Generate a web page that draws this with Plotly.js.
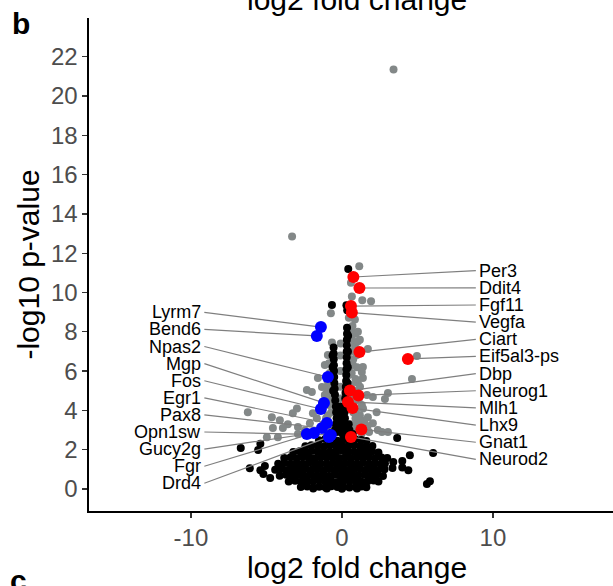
<!DOCTYPE html>
<html>
<head>
<meta charset="utf-8">
<script src="https://cdn.plot.ly/plotly-3.0.1.min.js"></script>
<style>
  html, body { margin: 0; padding: 0; background: #ffffff; overflow: hidden; }
  #chart { width: 625px; height: 586px; }
</style>
</head>
<body>
<div id="chart"></div>
<script>
// Volcano plot: log2 fold change vs -log10 p-value

// Genes not passing the filters (black)
const nsFC = [
  -0.7,-0.35,0.02,0.36,0.72,
  -1.52,-1.1,-0.72,-0.3,0.1,0.5,0.88,1.28,1.62,
  -2.42,-2.02,-1.6,-1.2,-0.8,-0.4,0.0,0.4,0.8,1.2,1.6,2.02,
  -3.22,-2.8,-2.4,-2.0,-1.6,-1.2,-0.8,-0.4,0.0,0.4,0.8,1.2,1.6,2.0,2.42,
  -3.82,-3.4,-3.0,-2.6,-2.2,-1.8,-1.4,-1.0,-0.6,-0.2,0.2,0.6,1.0,1.4,1.8,2.2,2.62,
  -4.22,-3.8,-3.4,-3.0,-2.6,-2.2,-1.8,-1.4,-1.0,-0.6,-0.2,0.2,0.6,1.0,1.4,1.8,2.2,2.6,2.85,
  -4.42,-4.0,-3.6,-3.2,-2.8,-2.4,-2.0,-1.6,-1.2,-0.8,-0.4,0.0,0.4,0.8,1.2,1.6,2.0,2.4,2.82,
  -4.12,-3.7,-3.3,-2.9,-2.5,-2.1,-1.7,-1.3,-0.9,-0.5,-0.1,0.3,0.7,1.1,1.5,1.9,2.3,2.72,
  -3.52,-3.1,-2.7,-2.3,-1.9,-1.5,-1.1,-0.7,-0.3,0.1,0.5,0.9,1.3,1.7,2.1,2.42,
  -2.72,-2.3,-1.9,-1.5,-1.1,-0.7,-0.3,0.1,0.5,0.9,1.3,1.62,
  -1.9,-1.0,0.0,1.0,
  // left arm of the spike
  -0.55,-0.55,-0.54,-0.53,-0.52,-0.51,-0.5,-0.48,-0.46,-0.44,
  -0.62,-0.62,-0.6,-0.58,
  // right arm of the spike
  0.34,0.34,0.33,0.33,0.32,0.32,0.31,0.3,0.29,0.28,0.26,0.24,0.22,
  0.41,0.4,0.39,0.37,
  // where the arms meet
  -0.4,-0.1,0.2, -0.38,-0.08,0.18, -0.35,-0.05,0.2, -0.4,-0.1,0.2,0.45, -0.45,-0.1,0.25,0.5,
  // scattered
  0.42,-0.66,0.35,0.3,
  3.66,3.0,3.4,4.0,4.5,3.35,4.0,4.4,6.04,5.83,5.63,
  -6.7,-5.4,-5.55,-6.1,-5.4,-5.1,-5.2,-4.75
];
const nsP = [
  2.85,2.9,2.82,2.88,2.8,
  2.48,2.55,2.5,2.46,2.52,2.47,2.53,2.49,2.44,
  2.18,2.23,2.2,2.16,2.24,2.19,2.21,2.17,2.22,2.2,2.15,2.19,
  1.88,1.92,1.87,1.93,1.9,1.86,1.91,1.89,1.94,1.88,1.9,1.92,1.87,1.91,1.86,
  1.58,1.62,1.57,1.63,1.6,1.56,1.61,1.59,1.62,1.58,1.6,1.57,1.63,1.59,1.61,1.56,1.6,
  1.28,1.32,1.27,1.31,1.29,1.33,1.28,1.3,1.26,1.32,1.29,1.31,1.27,1.3,1.33,1.28,1.31,1.27,1.3,
  0.98,1.02,0.97,1.01,0.99,1.03,0.98,1.0,0.96,1.02,0.99,1.01,0.97,1.0,1.03,0.98,1.01,0.97,1.0,
  0.68,0.72,0.67,0.71,0.69,0.73,0.68,0.7,0.66,0.72,0.69,0.71,0.67,0.7,0.73,0.68,0.71,0.66,
  0.38,0.42,0.37,0.41,0.39,0.43,0.38,0.4,0.36,0.42,0.39,0.41,0.37,0.4,0.43,0.38,
  0.1,0.13,0.08,0.12,0.09,0.14,0.1,0.12,0.08,0.11,0.13,0.09,
  0.02,0.03,0.01,0.02,
  7.2,6.9,6.6,6.3,6.0,5.7,5.4,5.1,4.8,4.5,
  6.8,6.2,5.6,5.0,
  8.2,7.9,7.6,7.3,7.0,6.7,6.4,6.1,5.8,5.5,5.2,4.9,4.6,
  7.8,7.0,6.2,5.4,
  4.2,4.2,4.2, 3.9,3.9,3.9, 3.6,3.6,3.6, 3.3,3.3,3.3,3.3, 3.0,3.0,3.0,3.0,
  11.2,9.36,9.1,9.35,
  2.6,1.58,1.37,1.42,1.72,1.07,1.1,0.96,1.83,0.4,0.25,
  2.08,2.3,1.98,1.06,0.96,1.17,0.76,0.56
];

// Significant genes without a label (grey)
const sigFC = [
  3.42,-3.3,1.15,0.6,0.66,1.35,1.93,-0.73,0.46,0.4,0.73,1.06,0.66,0.86,-0.66,1.72,0.53,
  -1.13,0.4,0.73,1.39,4.97,4.64,1.32,1.39,1.06,0.46,0.6,-1.59,-1.32,-0.99,-0.66,-2.32,
  -1.99,-0.66,-2.98,-3.25,-6.23,-1.92,-1.66,-2.12,-4.64,-4.11,-3.58,-2.91,-4.57,-3.91,
  -4.97,-4.24,-2.91,-2.45,2.05,3.05,2.85,1.66,2.05,1.72,2.65,3.05,2.38,1.19,0.99,1.46,
  0.86,0.93,1.32,0.99,1.19,0.86,-0.93,-1.13,-0.86,
  -0.93,1.5,2.3,0.9,1.7,
  0.7,0.9,0.75,1.0,0.65,0.9,1.2,0.8,1.1,0.7,1.4,0.75,1.15,0.6,0.9,1.3,0.55,0.85,1.05,0.6,1.5,1.8,
  -0.85,-0.8,-0.95,-0.75,-1.0,-0.8,-1.1,-0.7,-1.05,-0.75,-1.2,-0.55,-1.0,
  -0.1,-0.1,-0.1,-0.1,-0.08
];
const sigP = [
  21.35,12.85,11.33,10.5,9.8,9.6,9.55,8.95,8.72,8.2,7.95,8.0,7.6,7.33,7.45,7.13,6.97,
  6.31,6.56,6.31,6.21,6.77,5.6,5.95,5.65,5.39,5.8,5.29,5.65,5.19,5.19,5.04,5.04,
  4.93,4.73,4.1,3.86,3.91,3.86,3.6,3.35,3.65,3.5,3.3,3.15,3.1,3.1,
  2.63,2.63,2.8,2.98,4.68,4.89,4.58,4.78,3.35,3.65,2.9,2.9,3.0,3.75,3.25,2.98,
  4.78,4.0,4.27,6.82,7.6,8.62,6.82,4.78,4.27,
  3.75,3.5,3.9,3.6,3.2,
  8.3,7.9,6.6,6.2,5.9,5.6,5.2,5.0,4.5,4.6,4.1,3.9,3.5,3.3,3.0,2.8,6.3,7.1,7.5,8.0,3.2,2.9,
  6.4,5.9,5.5,5.3,4.9,4.5,4.3,3.9,3.6,3.2,3.3,2.95,2.9,
  6.8,6.0,5.2,4.6,7.4
];

// Labelled up-regulated genes (red)
const upGenes = ['Per3','Ddit4','Fgf11','Vegfa','Ciart','Eif5al3-ps','Dbp','Neurog1','Mlh1','Lhx9','Gnat1','Neurod2'];
const upFC = [0.76,1.16,0.60,0.66,1.16,4.37,0.53,1.09,0.40,0.70,1.29,0.60];
const upP  = [10.79,10.23,9.31,8.98,6.97,6.62,5.01,4.76,4.43,4.12,3.03,2.65];

// Labelled down-regulated genes (blue)
const downGenes = ['Lyrm7','Bend6','Npas2','Mgp','Fos','Egr1','Pax8','Opn1sw','Gucy2g','Fgr','Drd4'];
const downFC = [-1.39,-1.66,-0.93,-1.19,-1.39,-0.99,-1.32,-0.73,-2.32,-1.85,-0.86];
const downP  = [8.24,7.79,5.70,4.38,4.07,3.36,3.10,2.75,2.80,2.85,2.65];

// Axis ticks
const yTicks = [0,2,4,6,8,10,12,14,16,18,20,22];
const xTicks = [-10,0,10];

// Label column layout (data units)
const rightLabelX = 8.96, rightLineX = 8.87, rightTop = 11.11, rightStep = 0.873;
const leftLabelX = -9.19, leftLineX = -9.11, leftTop = 8.99, leftStep = 0.870;

const FONT = 'Liberation Sans, Arial, Helvetica, sans-serif';

// Connector segments from each label to its point
const segX = [], segY = [];
upGenes.forEach((g, i) => {
  segX.push(rightLineX, upFC[i], null);
  segY.push(rightTop - i * rightStep, upP[i], null);
});
downGenes.forEach((g, i) => {
  segX.push(leftLineX, downFC[i], null);
  segY.push(leftTop - i * leftStep, downP[i], null);
});

const traces = [
  { type: 'scatter', mode: 'markers', x: sigFC, y: sigP, hoverinfo: 'skip',
    marker: { color: '#838888', size: 8, line: { width: 0 } } },
  { type: 'scatter', mode: 'markers', x: nsFC, y: nsP, hoverinfo: 'skip',
    marker: { color: '#000000', size: 8, line: { width: 0 } } },
  { type: 'scatter', mode: 'lines', x: segX, y: segY, hoverinfo: 'skip',
    line: { color: '#7f7f7f', width: 1.2 } },
  { type: 'scatter', mode: 'markers', x: downFC, y: downP, text: downGenes, hoverinfo: 'text',
    marker: { color: '#0000ff', size: 12, line: { width: 0 } } },
  { type: 'scatter', mode: 'markers', x: upFC, y: upP, text: upGenes, hoverinfo: 'text',
    marker: { color: '#ff0000', size: 12, line: { width: 0 } } }
];

const annotations = [];
upGenes.forEach((g, i) => {
  annotations.push({ x: rightLabelX, y: rightTop - i * rightStep, xref: 'x', yref: 'y',
    text: g, showarrow: false, xanchor: 'left', yanchor: 'middle',
    font: { family: FONT, size: 18, color: '#000000' } });
});
downGenes.forEach((g, i) => {
  annotations.push({ x: leftLabelX, y: leftTop - i * leftStep, xref: 'x', yref: 'y',
    text: g, showarrow: false, xanchor: 'right', yanchor: 'middle',
    font: { family: FONT, size: 18, color: '#000000' } });
});
// Panel tags and the neighbouring panel's axis title
annotations.push({ x: -89 / 536 + 10 / 536, y: 1 + 13 / 493, xref: 'paper', yref: 'paper', text: '<b>b</b>',
  showarrow: false, xanchor: 'left', yanchor: 'top',
  font: { family: FONT, size: 30, color: '#000000' } });
annotations.push({ x: -89 / 536 + 8 / 536, y: -(578 - 511) / 493 - 21 / 493, xref: 'paper', yref: 'paper', text: '<b>c</b>',
  showarrow: false, xanchor: 'left', yanchor: 'bottom',
  font: { family: FONT, size: 30, color: '#000000' } });
annotations.push({ x: 0.5, y: 1, xref: 'paper', yref: 'paper', text: 'log2 fold change',
  showarrow: false, xanchor: 'center', yanchor: 'bottom',
  font: { family: FONT, size: 30, color: '#000000' } });

const layout = {
  width: 625, height: 586,
  margin: { l: 89, r: 0, t: 18, b: 75, pad: 0 },
  paper_bgcolor: '#ffffff', plot_bgcolor: '#ffffff',
  showlegend: false, hovermode: 'closest',
  font: { family: FONT },
  xaxis: {
    range: [-16.75, 18.75], tickvals: xTicks, ticktext: xTicks.map(String),
    ticks: 'outside', ticklen: 5, tickwidth: 1.3, tickcolor: '#333333',
    showline: true, linecolor: '#000000', linewidth: 1.6,
    showgrid: false, zeroline: false,
    tickfont: { family: FONT, size: 24, color: '#4d4d4d' },
    title: { text: 'log2 fold change', font: { family: FONT, size: 30, color: '#000000' }, standoff: 4 },
    automargin: false
  },
  yaxis: {
    range: [-1.12, 23.97], tickvals: yTicks, ticktext: yTicks.map(String),
    ticks: 'outside', ticklen: 5, tickwidth: 1.3, tickcolor: '#333333',
    showline: true, linecolor: '#000000', linewidth: 1.6,
    showgrid: false, zeroline: false,
    tickfont: { family: FONT, size: 24, color: '#4d4d4d' },
    title: { text: '-log10 p-value', font: { family: FONT, size: 30, color: '#000000' }, standoff: 2 },
    automargin: false
  },
  annotations: annotations
};

Plotly.newPlot('chart', traces, layout, { displayModeBar: false, staticPlot: true });
</script>
</body>
</html>
